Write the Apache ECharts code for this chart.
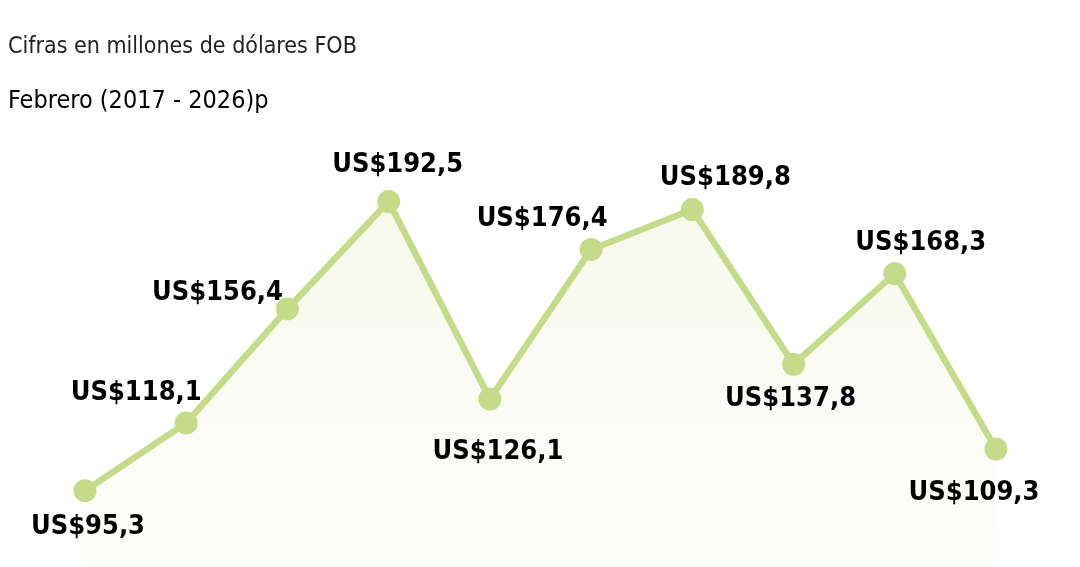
<!DOCTYPE html>
<html><head><meta charset="utf-8">
<script src="https://cdn.jsdelivr.net/npm/echarts@6/dist/echarts.min.js"></script>
<style>html,body{margin:0;padding:0;background:#fff}#c{width:1080px;height:567px}</style>
</head><body><div id="c"></div>
<script>
const years = ['2017','2018','2019','2020','2021','2022','2023','2024','2025','2026'];
const values = [95.3, 118.1, 156.4, 192.5, 126.1, 176.4, 189.8, 137.8, 168.3, 109.3];
const titleLine1 = 'Cifras en millones de dólares FOB';
const titleLine2 = 'Febrero (2017 - 2026)p';

// label placement per point (layout, not data)
const labelLayout = [
  {position:'bottom', offset:[3,6]},
  {position:'top', offset:[-50,0]},
  {position:'top', offset:[-70,14]},
  {position:'top', offset:[9,-7]},
  {position:'bottom', offset:[8,23]},
  {position:'top', offset:[-49,0]},
  {position:'top', offset:[33,-2]},
  {position:'bottom', offset:[-3,5]},
  {position:'top', offset:[26,-1]},
  {position:'bottom', offset:[-22,14]}
];
const FONT = '"Liberation Sans Narrow","DejaVu Sans Condensed","Roboto Condensed",sans-serif';

const chart = echarts.init(document.getElementById('c'));
chart.setOption({
  animation:false,
  backgroundColor:'#fff',
  title:[
    {text:titleLine1, left:3, top:31, textStyle:{fontFamily:FONT, fontWeight:'normal', fontSize:23, color:'#222'}},
    {text:titleLine2, left:3, top:84, textStyle:{fontFamily:FONT, fontWeight:'normal', fontSize:25, color:'#000'}}
  ],
  grid:{left:85, right:84, top:90, bottom:1},
  xAxis:{type:'category', data:years, boundaryGap:false, show:false},
  yAxis:{type:'value', min:70, max:230, show:false},
  series:[{
    type:'line',
    data: values.map((v,i)=>({value:v, label:labelLayout[i]})),
    symbol:'circle', symbolSize:23,
    lineStyle:{color:'#c6db8a', width:6.5},
    itemStyle:{color:'#c6db8a'},
    areaStyle:{color:new echarts.graphic.LinearGradient(0,0,0,1,[
      {offset:0,color:'#f3f6e4'},{offset:1,color:'#fdfdf9'}
    ]), origin:'start'},
    label:{show:true, fontFamily:FONT, fontWeight:'bold', fontSize:27, color:'#000',
      formatter:p=>'US$'+p.value.toFixed(1).replace('.',',')}
  }]
});
</script></body></html>
